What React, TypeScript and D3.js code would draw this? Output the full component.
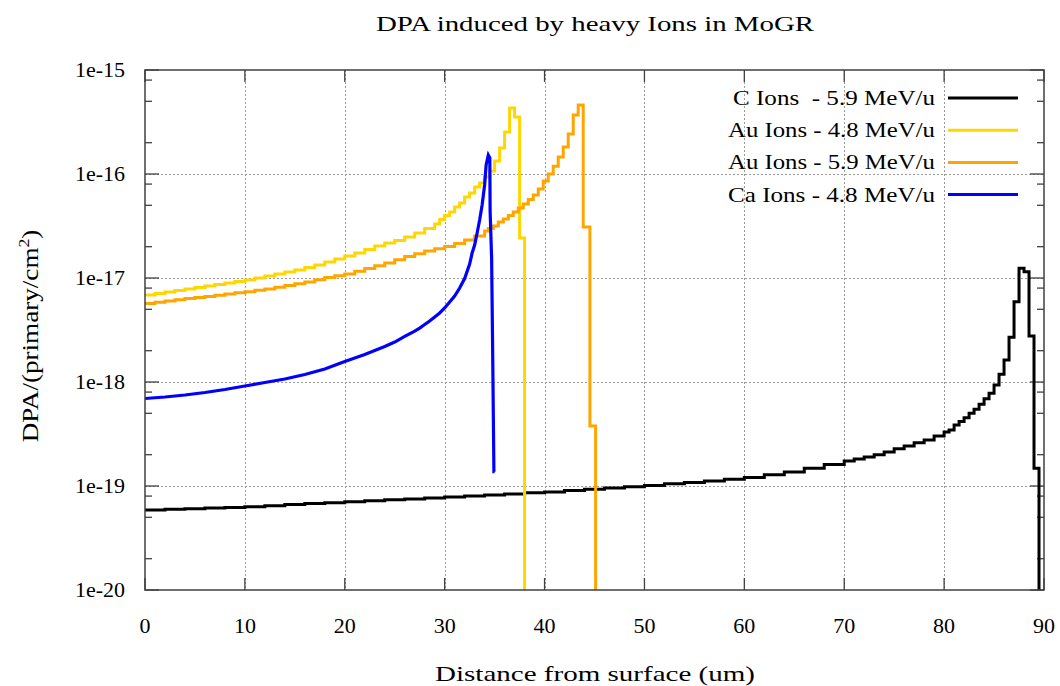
import React from 'react';
import * as d3 from 'd3';

// ---------- data ----------
const cIonDepth = [0,2,4,6,8,10,12,14,16,18,20,22,24,26,28,30,32,34,36,38,40,42,44,46,48,50,52,54,56,58,60,62,64,66,68,70,71,72,73,74,75,76,77,78,79,80,80.5,81,81.5,82,82.5,83,83.5,84,84.5,85,85.5,86,86.5,87,87.5,88,88.5,89,89.5];
const cIonDpa = [5.88e-20,5.96e-20,6.04e-20,6.13e-20,6.22e-20,6.32e-20,6.47e-20,6.63e-20,6.78e-20,6.92e-20,7.06e-20,7.21e-20,7.36e-20,7.51e-20,7.68e-20,7.85e-20,8.03e-20,8.2e-20,8.4e-20,8.6e-20,8.78e-20,9.05e-20,9.3e-20,9.55e-20,9.85e-20,1.01e-19,1.05e-19,1.08e-19,1.12e-19,1.16e-19,1.21e-19,1.28e-19,1.36e-19,1.48e-19,1.61e-19,1.74e-19,1.82e-19,1.9e-19,2.0e-19,2.12e-19,2.28e-19,2.43e-19,2.6e-19,2.77e-19,3.03e-19,3.31e-19,3.45e-19,3.86e-19,4.16e-19,4.54e-19,5.0e-19,5.46e-19,6.1e-19,6.9e-19,7.8e-19,9.35e-19,1.19e-18,1.63e-18,2.69e-18,5.9e-18,1.24e-17,1.15e-17,2.77e-18,1.48e-19,0];

const au48Depth = [0,1,2,3,4,5,6,7,8,9,10,11,12,13,14,15,16,17,18,19,20,21,22,23,24,25,26,27,28,29,29.5,30,30.5,31,31.5,32,32.5,33,33.5,34,34.5,35,35.5,36,36.5,37,37.5,38];
const au48Dpa = [6.86e-18,7.10e-18,7.33e-18,7.58e-18,7.84e-18,8.10e-18,8.37e-18,8.66e-18,8.95e-18,9.25e-18,9.57e-18,1.0e-17,1.045e-17,1.093e-17,1.142e-17,1.194e-17,1.262e-17,1.334e-17,1.426e-17,1.523e-17,1.63e-17,1.739e-17,1.88e-17,2.03e-17,2.17e-17,2.29e-17,2.48e-17,2.71e-17,2.99e-17,3.31e-17,3.65e-17,3.99e-17,4.31e-17,4.82e-17,5.26e-17,6.01e-17,6.57e-17,7.5e-17,8.19e-17,9.35e-17,1.07e-16,1.33e-16,1.78e-16,2.53e-16,4.31e-16,3.53e-16,2.43e-17,0];

const au59Depth = [0,1,2,3,4,5,6,7,8,9,10,11,12,13,14,15,16,17,18,19,20,21,22,23,24,25,26,27,28,29,30,31,32,33,34,34.37,34.87,35.37,35.87,36.37,36.87,37.37,37.87,38.37,38.87,39.37,39.87,40.37,40.87,41.37,41.87,42.37,42.87,43.37,43.87,44.54,45.11];
const au59Dpa = [5.69e-18,5.85e-18,6.01e-18,6.18e-18,6.35e-18,6.49e-18,6.64e-18,6.83e-18,7.02e-18,7.21e-18,7.38e-18,7.62e-18,7.84e-18,8.15e-18,8.47e-18,8.79e-18,9.15e-18,9.61e-18,1.011e-17,1.05e-17,1.093e-17,1.162e-17,1.234e-17,1.313e-17,1.393e-17,1.496e-17,1.609e-17,1.708e-17,1.818e-17,1.909e-17,2.01e-17,2.147e-17,2.32e-17,2.534e-17,2.83e-17,2.99e-17,3.16e-17,3.45e-17,3.69e-17,3.99e-17,4.31e-17,4.71e-17,5.15e-17,5.69e-17,6.28e-17,7.18e-17,8.56e-17,1.0e-16,1.19e-16,1.46e-16,1.82e-16,2.42e-16,3.69e-16,4.61e-16,3.09e-17,3.78e-19,0];

const ca48Depth = [0,2,4,6,8,10,12,14,16,18,20,22,24,25,26,27,27.5,28,28.5,29,29.5,30,30.5,31,31.5,32,32.5,32.75,33,33.25,33.5,33.75,34,34.15,34.37,34.52,34.55,34.7,34.8,34.93,35.0];
const ca48Dpa = [6.94e-19,7.17e-19,7.5e-19,7.93e-19,8.47e-19,9.15e-19,9.89e-19,1.069e-18,1.18e-18,1.334e-18,1.575e-18,1.838e-18,2.194e-18,2.42e-18,2.74e-18,3.09e-18,3.3e-18,3.57e-18,3.86e-18,4.22e-18,4.61e-18,5.15e-18,5.88e-18,6.71e-18,8.01e-18,9.89e-18,1.363e-17,1.739e-17,2.076e-17,2.71e-17,3.61e-17,5.03e-17,7.84e-17,1.22e-16,1.52e-16,1.43e-16,4.4e-17,1.557e-17,2.17e-18,1.373e-19,1.373e-19];

const seriesNames = ['C Ions  - 5.9 MeV/u', 'Au Ions - 4.8 MeV/u', 'Au Ions - 5.9 MeV/u', 'Ca Ions - 4.8 MeV/u'];
const seriesColors = ['#000000', '#ffd700', '#ffa500', '#0000ff'];

const xTickValues = [0, 10, 20, 30, 40, 50, 60, 70, 80, 90];
const yTickValues = [1e-15, 1e-16, 1e-17, 1e-18, 1e-19, 1e-20];
const yTickLabels = ['1e-15', '1e-16', '1e-17', '1e-18', '1e-19', '1e-20'];
const yMinorMultipliers = [2, 5, 8];

const titleText = 'DPA induced by heavy Ions in MoGR';
const xLabelText = 'Distance from surface (um)';

export default function App() {
  const left = 145, right = 1044, top = 70, bottom = 590;
  const x = d3.scaleLinear().domain([0, 90]).range([left, right]);
  const y = d3.scaleLog().domain([1e-20, 1e-15]).range([bottom, top]);
  const yv = (v: number) => (v > 0 ? y(v) : bottom + 20);
  const crisp = (p: number) => Math.round(p) + 0.5;

  const zip = (a: number[], b: number[]) => a.map((d, i) => [d, b[i]] as [number, number]);
  const step = d3.line<[number, number]>().x(d => x(d[0])).y(d => yv(d[1])).curve(d3.curveStepAfter);
  const lin = d3.line<[number, number]>().x(d => x(d[0])).y(d => yv(d[1])).curve(d3.curveLinear);

  const series = [
    { path: step(zip(cIonDepth, cIonDpa)), w: 3 },
    { path: step(zip(au48Depth, au48Dpa)), w: 3 },
    { path: step(zip(au59Depth, au59Dpa)), w: 3 },
    { path: lin(zip(ca48Depth, ca48Dpa)), w: 3.2 },
  ];

  const minorVals: number[] = [];
  for (let e = -20; e < -15; e++) {
    yMinorMultipliers.forEach(m => minorVals.push(m * Math.pow(10, e)));
  }

  const axisColor = '#404040';
  const gridColor = '#9a9a9a';
  const font = '"Liberation Serif", "Times New Roman", serif';

  return (
    <svg width={1060} height={686} style={{ position: 'absolute', left: 0, top: 0, background: '#fff' }} fontFamily={font}>
      <rect x={0} y={0} width={1060} height={686} fill="#fff" />
      <defs>
        <clipPath id="plotClip">
          <rect x={left} y={top} width={right - left} height={bottom - top} />
        </clipPath>
      </defs>

      {/* grid */}
      <g shapeRendering="crispEdges">
        {xTickValues.filter(v => v > 0 && v < 90).map(v => (
          <line key={'gx' + v} x1={crisp(x(v))} x2={crisp(x(v))} y1={top} y2={bottom} stroke={gridColor} strokeWidth={1} strokeDasharray="2,2" />
        ))}
        {yTickValues.filter(v => v > 1e-20 && v < 1e-15).map(v => (
          <line key={'gy' + v} x1={left} x2={right} y1={crisp(y(v))} y2={crisp(y(v))} stroke={gridColor} strokeWidth={1} strokeDasharray="2,2" />
        ))}
      </g>

      {/* ticks */}
      {xTickValues.map(v => (
        <g key={'tx' + v}>
          <line x1={x(v)} x2={x(v)} y1={bottom} y2={bottom - 12} stroke={axisColor} strokeWidth={1.3} />
          <line x1={x(v)} x2={x(v)} y1={top} y2={top + 12} stroke={axisColor} strokeWidth={1.3} />
          <text x={x(v)} y={633} textAnchor="middle" fontSize={22} fill="#000">{v}</text>
        </g>
      ))}
      {yTickValues.map((v, i) => (
        <g key={'ty' + v}>
          <line x1={left} x2={left + 14} y1={y(v)} y2={y(v)} stroke={axisColor} strokeWidth={1.3} />
          <line x1={right} x2={right - 14} y1={y(v)} y2={y(v)} stroke={axisColor} strokeWidth={1.3} />
          <text x={125} y={y(v) + 7} textAnchor="end" fontSize={22} fill="#000">{yTickLabels[i]}</text>
        </g>
      ))}
      {minorVals.map(v => (
        <g key={'my' + v}>
          <line x1={left} x2={left + 7} y1={y(v)} y2={y(v)} stroke={axisColor} strokeWidth={1.3} />
          <line x1={right} x2={right - 7} y1={y(v)} y2={y(v)} stroke={axisColor} strokeWidth={1.3} />
        </g>
      ))}

      {/* data */}
      <g clipPath="url(#plotClip)">
        {series.map((s, i) => (
          <path key={'s' + i} d={s.path || ''} fill="none" stroke={seriesColors[i]} strokeWidth={s.w} strokeLinejoin="miter" />
        ))}
      </g>

      {/* frame */}
      <rect x={left} y={top} width={right - left} height={bottom - top} fill="none" stroke={axisColor} strokeWidth={1.5} />

      {/* legend */}
      {seriesNames.map((n, i) => {
        const ly = 98 + i * 32.2;
        return (
          <g key={'lg' + i}>
            <text x={935} y={ly + 7} textAnchor="end" fontSize={22} fill="#000" style={{ whiteSpace: 'pre' }}
              textLength={i === 0 ? 202 : 207} lengthAdjust="spacingAndGlyphs">{n}</text>
            <line x1={948} x2={1018} y1={ly} y2={ly} stroke={seriesColors[i]} strokeWidth={3} />
          </g>
        );
      })}

      {/* title and labels */}
      <text x={595} y={31} textAnchor="middle" fontSize={22} fill="#000" textLength={438} lengthAdjust="spacingAndGlyphs">{titleText}</text>
      <text x={595} y={681} textAnchor="middle" fontSize={22} fill="#000" textLength={320} lengthAdjust="spacingAndGlyphs">{xLabelText}</text>
      <text transform="translate(38,336) rotate(-90) scale(1.18,1)" textAnchor="middle" fontSize={23} fill="#000">
        DPA/(primary/cm<tspan dy={-9} fontSize={15}>2</tspan><tspan dy={9}>)</tspan>
      </text>
    </svg>
  );
}
